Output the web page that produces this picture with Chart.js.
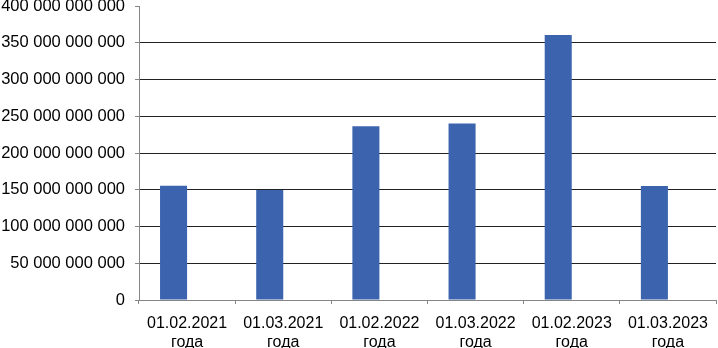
<!DOCTYPE html>
<html>
<head>
<meta charset="utf-8">
<script src="https://cdn.jsdelivr.net/npm/chart.js@4/dist/chart.umd.min.js"></script>
<style>
html,body{margin:0;padding:0;background:#fff;}
#wrap{width:718px;height:348px;position:relative;}
</style>
</head>
<body>
<div id="wrap"><canvas id="c" width="718" height="348"></canvas></div>
<script>
const categories = [
  ['01.02.2021', 'года'],
  ['01.03.2021', 'года'],
  ['01.02.2022', 'года'],
  ['01.03.2022', 'года'],
  ['01.02.2023', 'года'],
  ['01.03.2023', 'года']
];
const values = [155500000000, 149500000000, 236500000000, 240000000000, 360500000000, 155000000000];
const emptySeries = [null, null, null, null, null, null];
const yMin = 0;
const yMax = 400000000000;
const yStep = 50000000000;

function fmt(v) {
  return String(Math.round(v)).replace(/\B(?=(\d{3})+(?!\d))/g, ' ');
}

new Chart(document.getElementById('c'), {
  type: 'bar',
  data: {
    labels: categories,
    datasets: [
      { data: values, backgroundColor: '#3C64AE', borderWidth: 0 },
      { data: emptySeries, backgroundColor: '#C0504D', borderWidth: 0 }
    ]
  },
  options: {
    responsive: false,
    animation: false,
    devicePixelRatio: 1,
    layout: { padding: { top: 6, right: 2, bottom: 0, left: 0 } },
    plugins: { legend: { display: false }, tooltip: { enabled: false } },
    datasets: { bar: { categoryPercentage: 0.5625, barPercentage: 1.0 } },
    scales: {
      x: {
        offset: true,
        grid: { offset: true, drawOnChartArea: false, drawTicks: true, tickLength: 4, color: '#868686', tickColor: '#868686' },
        border: { display: true, color: '#868686', width: 1 },
        ticks: { color: '#000', font: { family: "'Liberation Sans', Arial, sans-serif", size: 16 }, padding: 10, maxRotation: 0, autoSkip: false },
        afterFit: (s) => { s.height = 48; s.paddingLeft = 0; s.paddingRight = 0; }
      },
      y: {
        min: yMin, max: yMax,
        grid: {
          drawTicks: true, tickLength: 4,
          color: (ctx) => (ctx.tick && (ctx.tick.value === yMax || ctx.tick.value === yMin)) ? 'rgba(0,0,0,0)' : '#222',
          tickColor: '#868686'
        },
        border: { display: true, color: '#868686', width: 1 },
        ticks: {
          stepSize: yStep, color: '#000', padding: 10,
          font: { family: "'Liberation Sans', Arial, sans-serif", size: 16.5 },
          callback: (v) => fmt(v)
        },
        afterFit: (s) => { s.width = 139; s.paddingTop = 0; s.paddingBottom = 0; }
      }
    }
  }
});
</script>
</body>
</html>
